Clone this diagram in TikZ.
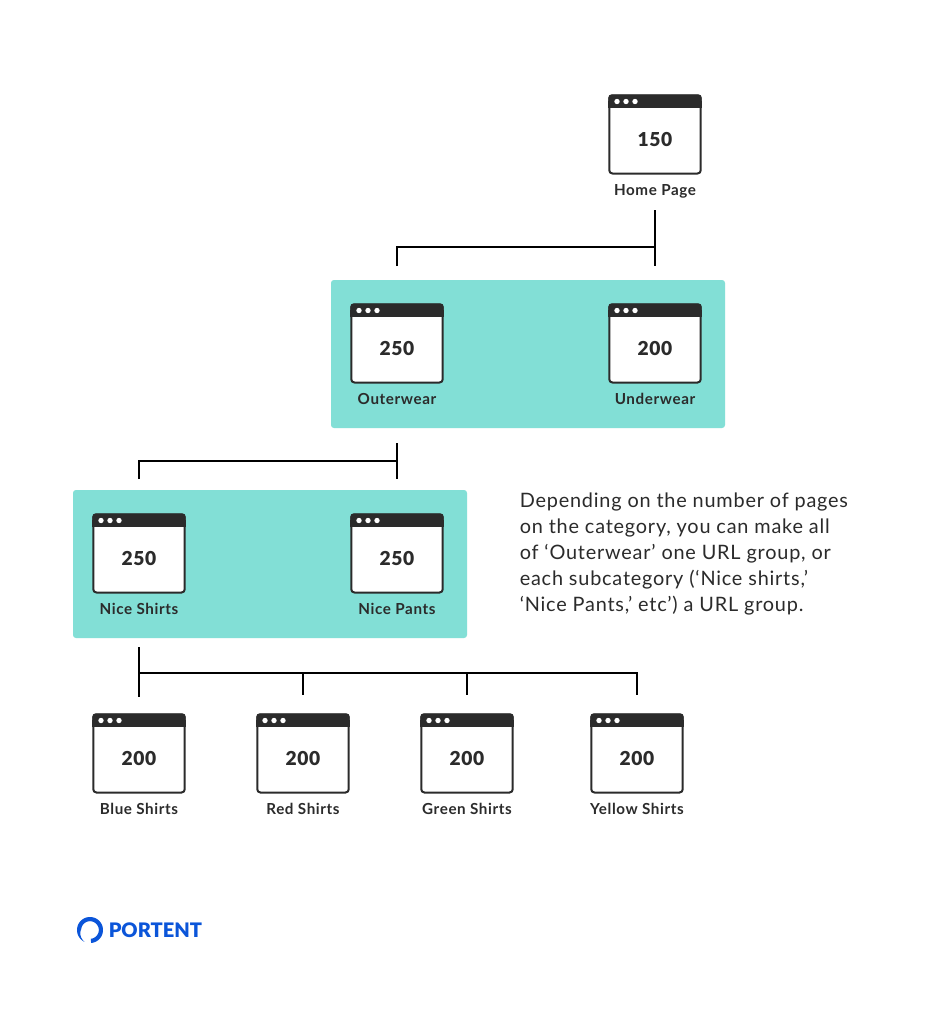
\documentclass[tikz,border=0pt]{standalone}
\usepackage{fontspec}
\setmainfont{Lato}
\newfontfamily\lblfont[LetterSpace=4,BoldFont={Lato Bold}]{Lato}
\newfontfamily\numfont[LetterSpace=3,BoldFont={Lato Black}]{Lato}
\newfontfamily\bodyfont[LetterSpace=4]{Lato}
\definecolor{ink}{HTML}{2B2B2B}
\definecolor{teal}{HTML}{82DFD6}
\definecolor{portent}{HTML}{0B55D9}
\tikzset{
  groupbox/.style={fill=teal,rounded corners=2.2pt,minimum width=295.5pt,minimum height=111pt,inner sep=0pt},
  winbox/.style={draw=ink,line width=1.5pt,rounded corners=2.4pt,minimum width=68.6pt,minimum height=58.5pt,inner sep=0pt,outer sep=0pt,fill=white},
  winnum/.style={text=ink,font=\bfseries\fontsize{14.4}{16}\numfont,inner sep=0pt,anchor=base},
  winlabel/.style={text=ink,font=\bfseries\fontsize{11.4}{13}\lblfont,inner sep=0pt,anchor=base},
  conn/.style={draw=black,line width=1.5pt},
}
\newcommand{\win}[5]{% name, x, y-top, number, label
  \node[winbox] (#1) at (#2,#3+39.5) {};
  \fill[ink,rounded corners=2.4pt] (#2-46.7,#3-0.6) -- (#2+46.7,#3-0.6) -- (#2+46.7,#3+10) -- (#2-46.7,#3+10) -- cycle;
  \fill[ink] (#2-46.7,#3+6) rectangle (#2+46.7,#3+13.2);
  \foreach \d in {-38,-29,-20} \fill[white] (#2+\d,#3+6.5) circle[radius=2.7];
  \node[winnum] (#1n) at (#2,#3+51) {#4};
  \node[winlabel] (#1l) at (#2,#3+100) {#5};
}
\begin{document}
\begin{tikzpicture}[x=0.75pt,y=-0.75pt]
\useasboundingbox (0,0) rectangle (928,1010);
\fill[white] (0,0) rectangle (928,1010);
\node[groupbox] (g1) at (528,354) {};
\node[groupbox] (g2) at (270,564) {};
\win{home}{655}{95}{150}{Home Page}
\win{outer}{397}{304}{250}{Outerwear}
\win{under}{655}{304}{200}{Underwear}
\win{nshirts}{139}{514}{250}{Nice Shirts}
\win{npants}{397}{514}{250}{Nice Pants}
\win{blue}{139}{714}{200}{Blue Shirts}
\win{red}{303}{714}{200}{Red Shirts}
\win{green}{467}{714}{200}{Green Shirts}
\win{yellow}{637}{714}{200}{Yellow Shirts}
% connector ends
\coordinate (a0) at (655,210); \coordinate (a1) at (655,266); \coordinate (aj) at (655,247);
\coordinate (a2) at (397,266); \coordinate (a2j) at (397,247);
\draw[conn] (a0) -- (a1);
\draw[conn] (a2) -- (a2j) -- (aj);
\coordinate (b0) at (397,443); \coordinate (b1) at (397,479); \coordinate (bj) at (397,461);
\coordinate (b2) at (139,479); \coordinate (b2j) at (139,461);
\draw[conn] (b0) -- (b1);
\draw[conn] (b2) -- (b2j) -- (bj);
\coordinate (c0) at (139,647); \coordinate (c1) at (139,697); \coordinate (cj) at (139,673);
\coordinate (c2) at (303,695); \coordinate (c2j) at (303,673);
\coordinate (c3) at (467,695); \coordinate (c3j) at (467,673);
\coordinate (c4) at (637,695); \coordinate (c4j) at (637,673);
\draw[conn] (c0) -- (c1);
\draw[conn] (cj) -- (c4j) -- (c4);
\draw[conn] (c2j) -- (c2);
\draw[conn] (c3j) -- (c3);
\node[anchor=north west,inner sep=0pt,text=ink,align=left,font=\fontsize{14.9}{19.6}\bodyfont] (note) at (519.5,492.5) {Depending on the number of pages\\on the category, you can make all\\of ‘Outerwear’ one URL group, or\\each subcategory (‘Nice shirts,’\\‘Nice Pants,’ etc’) a URL group.};
% logo
\fill[portent] plot[smooth,domain=-85:245,samples=60] ({90+13*cos(\x)},{930-13*sin(\x)})
  -- plot[smooth,domain=245:-85,samples=60] ({90+(13-4.2*min(1,(245-\x)/70))*cos(\x)},{930-(13-4.2*min(1,(245-\x)/70))*sin(\x)}) -- cycle;
\node[anchor=west,inner sep=0pt,text=portent,font=\fontsize{15}{18}\fontspec{Lato Black}] (logo) at (108.5,930) {PORTENT};
\end{tikzpicture}
\end{document}
